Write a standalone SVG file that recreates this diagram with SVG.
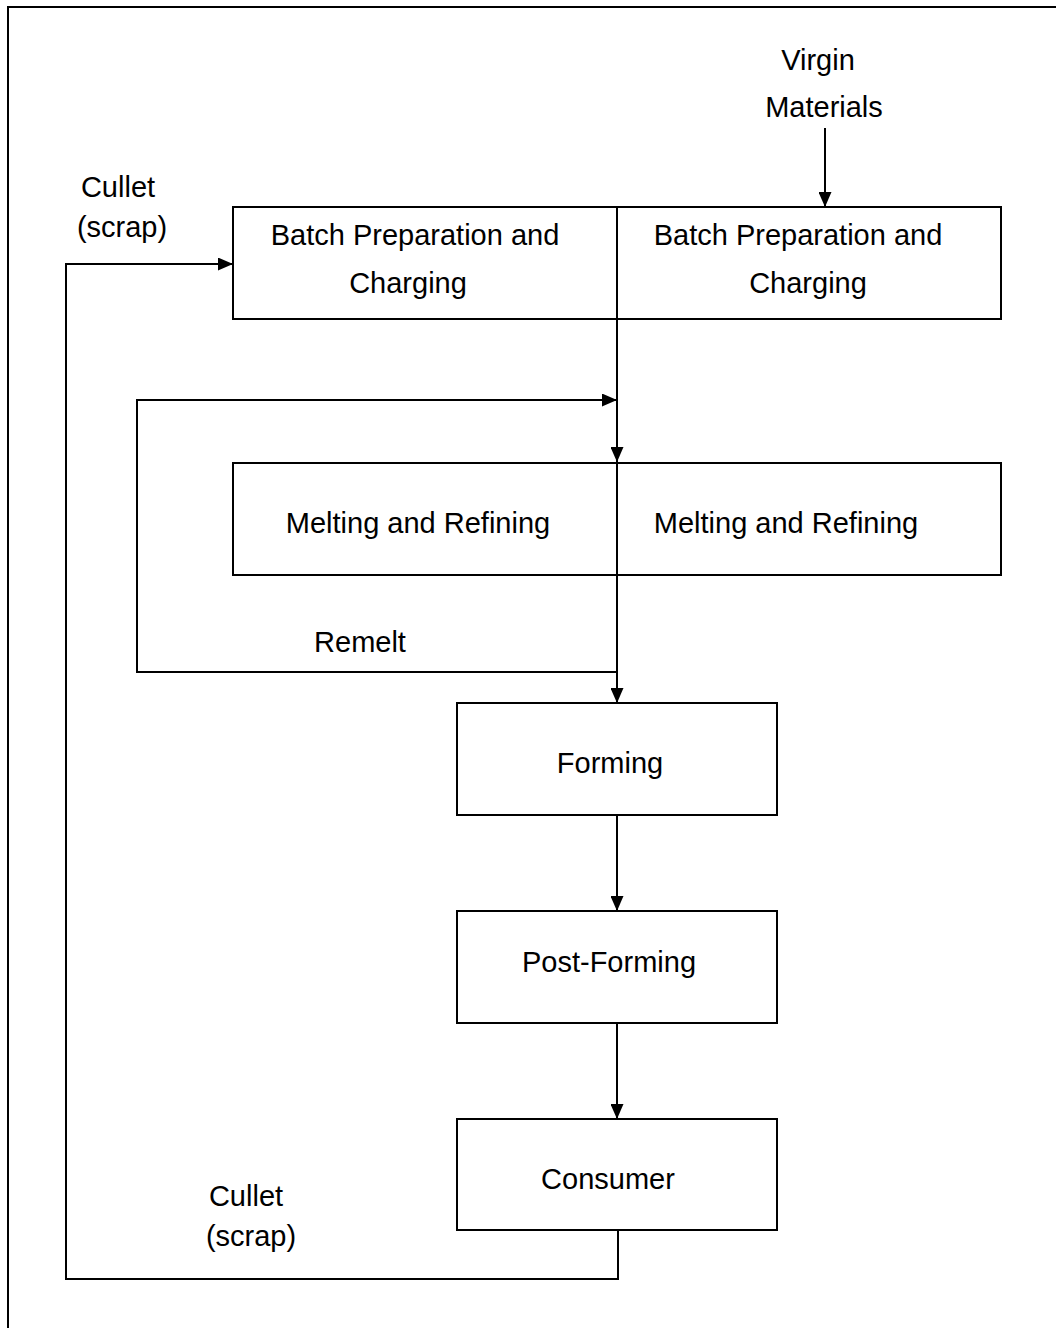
<svg xmlns="http://www.w3.org/2000/svg" width="1056" height="1328" viewBox="0 0 1056 1328">
<style>
.box{fill:#fff;stroke:#000;stroke-width:2}
.ln{fill:none;stroke:#000;stroke-width:2}
text{font-family:"Liberation Sans",Arial,sans-serif;font-size:29px;fill:#000;text-anchor:middle}
</style>
<defs>
<marker id="ah" markerUnits="userSpaceOnUse" markerWidth="15" markerHeight="13" refX="15" refY="6.5" orient="auto">
<path d="M0,0 L15,6.5 L0,13 Z" fill="#000"/>
</marker>
</defs>
<rect width="1056" height="1328" fill="#fff"/>
<path class="ln" d="M8,1328 V7 H1056"/>
<g id="batch-left"><rect class="box" x="233" y="207" width="384" height="112"/><text x="415" y="245">Batch Preparation and</text><text x="408" y="293">Charging</text></g>
<g id="batch-right"><rect class="box" x="617" y="207" width="384" height="112"/><text x="798" y="245">Batch Preparation and</text><text x="808" y="293">Charging</text></g>
<g id="melt-left"><rect class="box" x="233" y="463" width="384" height="112"/><text x="418" y="533">Melting and Refining</text></g>
<g id="melt-right"><rect class="box" x="617" y="463" width="384" height="112"/><text x="786" y="533">Melting and Refining</text></g>
<g id="forming"><rect class="box" x="457" y="703" width="320" height="112"/><text x="610" y="773">Forming</text></g>
<g id="postforming"><rect class="box" x="457" y="911" width="320" height="112"/><text x="609" y="972">Post-Forming</text></g>
<g id="consumer"><rect class="box" x="457" y="1119" width="320" height="111"/><text x="608" y="1189">Consumer</text></g>
<g id="labels">
<text x="818" y="70">Virgin</text><text x="824" y="117">Materials</text>
<text x="118" y="197">Cullet</text><text x="122" y="237">(scrap)</text>
<text x="360" y="652">Remelt</text>
<text x="246" y="1206">Cullet</text><text x="251" y="1246">(scrap)</text>
</g>
<g id="connectors">
<line class="ln" x1="825" y1="128" x2="825" y2="207" marker-end="url(#ah)"/>
<path class="ln" d="M618,1230 V1279 H66 V264 H233" marker-end="url(#ah)"/>
<line class="ln" x1="617" y1="319" x2="617" y2="462" marker-end="url(#ah)"/>
<path class="ln" d="M617,672 H137 V400 H617" marker-end="url(#ah)"/>
<line class="ln" x1="617" y1="575" x2="617" y2="703" marker-end="url(#ah)"/>
<line class="ln" x1="617" y1="815" x2="617" y2="911" marker-end="url(#ah)"/>
<line class="ln" x1="617" y1="1023" x2="617" y2="1119" marker-end="url(#ah)"/>
</g>
</svg>
